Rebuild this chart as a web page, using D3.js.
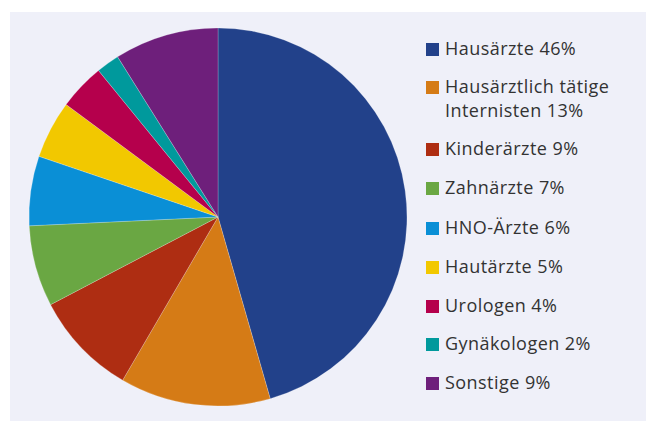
<!DOCTYPE html>
<html>
<head>
<meta charset="utf-8">
<script src="https://cdn.jsdelivr.net/npm/d3@7"></script>
<style>
	body { margin: 0; background: #fff; }
	text { font-family: "Open Sans", "Noto Sans", sans-serif; }
</style>
</head>
<body>
<div id="chart"></div>
<script>
	// Arztgruppen, Anteile in Prozent
	var groups = ["Hausärzte", "Hausärztlich tätige Internisten", "Kinderärzte", "Zahnärzte", "HNO-Ärzte", "Hautärzte", "Urologen", "Gynäkologen", "Sonstige"];
	var shares = [46, 13, 9, 7, 6, 5, 4, 2, 9];
	var labelLines = [["Hausärzte 46%"], ["Hausärztlich tätige", "Internisten 13%"], ["Kinderärzte 9%"], ["Zahnärzte 7%"], ["HNO-Ärzte 6%"], ["Hautärzte 5%"], ["Urologen 4%"], ["Gynäkologen 2%"], ["Sonstige 9%"]];
	var colors = ["#22418a", "#d57b16", "#ae2d12", "#6aa743", "#0a8fd6", "#f2c800", "#b5004c", "#00999c", "#6e1f7b"];

	var w = 646,
		h = 421;

	var svg = d3.select("#chart")
				.append("svg")
				.attr("width", w)
				.attr("height", h);

	svg.append("rect")
	   .attr("x", 10)
	   .attr("y", 12)
	   .attr("width", w - 10)
	   .attr("height", h - 12)
	   .attr("fill", "#eff0f9");

	var cx = 218,
		cy = 217,
		r = 189;

	var pie = d3.pie().sort(null).value((d) => d);
	var arc = d3.arc().innerRadius(0).outerRadius(r);

	var chart = svg.append("g")
				   .attr("transform", "translate(" + cx + "," + cy + ")");

	chart.selectAll("path")
		 .data(pie(shares))
		 .enter()
		 .append("path")
		 .attr("d", arc)
		 .attr("fill", (d, i) => colors[i])
		 .attr("stroke", "rgba(255,255,255,0.35)")
		 .attr("stroke-width", 0.6);

	// Legende
	var color = d3.scaleOrdinal().domain(groups).range(colors);
	var legend = svg.append("g").attr("transform", "translate(426, 0)");
	var rowY = [49, 87, 149, 188, 228, 267, 306, 344, 383];

	groups.forEach(function(g, i){
		let item = legend.append("g").attr("transform", "translate(0," + rowY[i] + ")");
		item.append("rect")
			.attr("x", 0)
			.attr("y", -6)
			.attr("width", 13)
			.attr("height", 13)
			.attr("fill", color(g));
		labelLines[i].forEach(function(line, j){
			item.append("text")
				.attr("x", 19)
				.attr("y", j * 24)
				.attr("dy", "0.36em")
				.attr("font-size", 18)
				.attr("letter-spacing", 0.45)
				.attr("fill", "#333")
				.text(line);
		});
	});
</script>
</body>
</html>
